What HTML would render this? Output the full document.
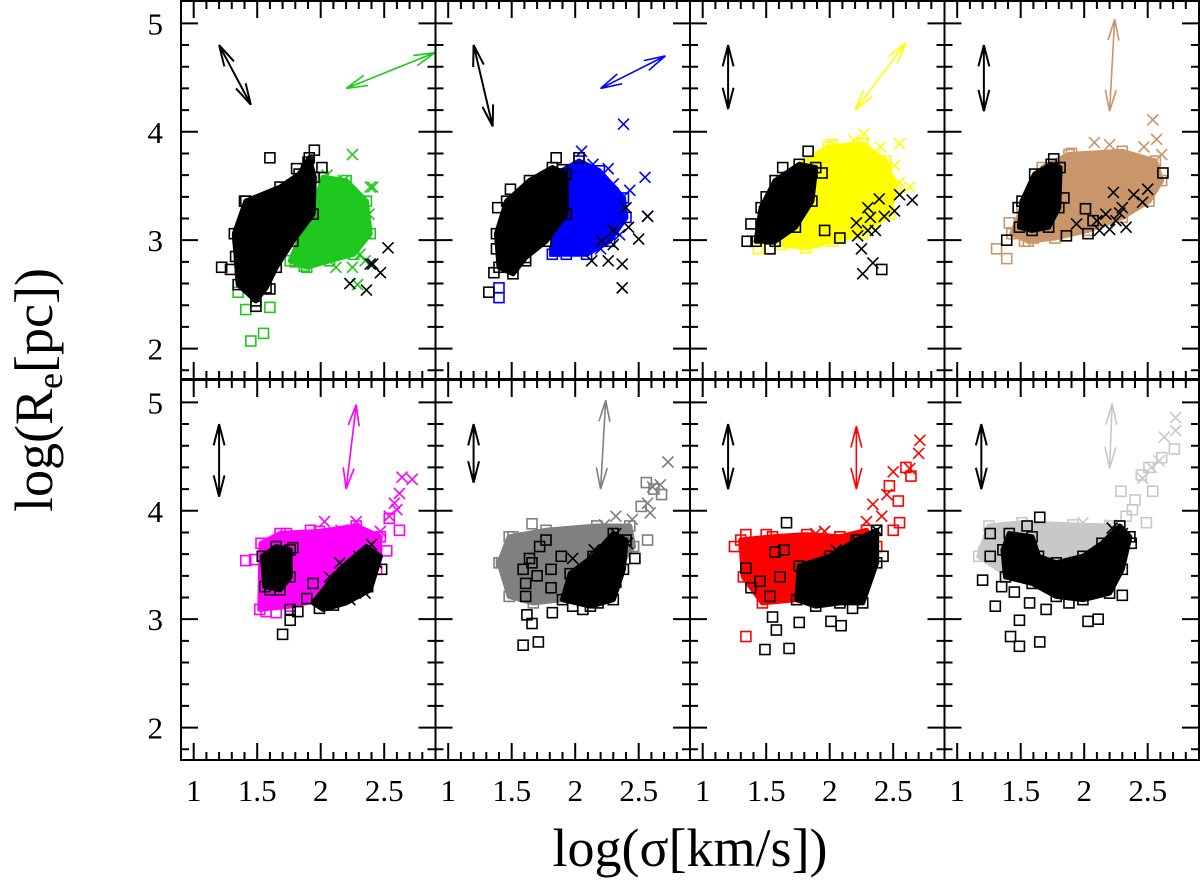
<!DOCTYPE html>
<html><head><meta charset="utf-8"><style>
html,body{margin:0;padding:0;background:#fff;}
svg{display:block;}
text{font-family:"Liberation Serif",serif;fill:#000;}
</style></head><body>
<svg id="chart" width="1200" height="882" viewBox="0 0 1200 882" xmlns="http://www.w3.org/2000/svg">
<g id="plots"></g>
<g id="labels"></g>
<text transform="translate(52,390) rotate(-90)" text-anchor="middle" font-size="54">log(R<tspan font-size="36" dy="10">e</tspan><tspan dy="-10">[pc])</tspan></text>
<text x="690" y="866" text-anchor="middle" font-size="54">log(σ[km/s])</text>
</svg>
<script>
// ---- data (x = log sigma, y = log Re) ----
const panelColors=["#1ec81e","#0000ff","#ffff00","#c8966a","#ff00ff","#808080","#ff0000","#c8c8c8"];
const xTicks=[1,1.5,2,2.5];
const xTickLabels=["1","1.5","2","2.5"];
const yTicks=[5,4,3,2];
const yTickLabels=["5","4","3","2"];

// Panel 1 green
const p1ColHull=[[1.76,2.81],[1.94,3.30],[2.02,3.58],[2.20,3.55],[2.36,3.36],[2.39,3.06],[2.26,2.87],[2.07,2.81],[1.89,2.75]];
const p1BlkHull=[[1.35,2.59],[1.32,3.06],[1.41,3.36],[1.68,3.49],[1.83,3.61],[1.91,3.76],[1.95,3.58],[1.94,3.24],[1.78,2.99],[1.65,2.75],[1.57,2.56],[1.49,2.44]];
const p1ColSq=[[1.45,2.07],[1.55,2.14],[1.41,2.36],[1.60,2.38],[1.35,2.52],[1.87,2.76],[1.80,2.80]];
const p1ColX=[[2.25,3.79],[2.39,3.49],[2.38,3.24],[2.36,3.06],[2.31,2.87],[2.12,2.75],[2.25,2.75],[2.18,3.55],[2.41,3.49],[2.32,3.33],[2.35,2.81],[2.29,2.59],[2.05,3.60],[2.30,3.15]];
const p1BlkSq=[[1.60,3.76],[1.95,3.83],[1.22,2.75],[1.29,2.73],[1.49,2.39],[1.35,3.02],[1.40,3.36],[2.01,3.67],[1.81,3.66],[1.33,2.85],[1.90,3.72],[1.60,2.55]];
const p1BlkX=[[2.53,2.93],[2.39,2.78],[2.47,2.70],[2.23,2.60],[2.36,2.54],[2.41,2.78]];
const p1Arrows=[[1.20,4.80,1.45,4.25],[2.20,4.40,2.90,4.73]];

// Panel 2 blue
const p2ColHull=[[1.82,2.87],[1.85,3.61],[2.03,3.73],[2.19,3.64],[2.38,3.39],[2.40,3.21],[2.27,2.99],[2.09,2.87],[1.93,2.87]];
const p2BlkHull=[[1.40,2.75],[1.38,3.06],[1.46,3.36],[1.64,3.55],[1.82,3.67],[1.93,3.61],[1.93,3.24],[1.77,2.99],[1.61,2.84],[1.51,2.69]];
const p2ColSq=[[1.40,2.47],[1.40,2.56],[1.84,2.90]];
const p2ColX=[[2.38,4.07],[2.05,3.82],[2.26,3.66],[2.55,3.58],[2.43,3.46],[2.30,3.52],[2.57,3.22],[2.14,3.70],[2.35,3.05],[2.20,2.92]];
const p2BlkSq=[[1.32,2.52],[1.36,2.70],[1.38,2.92],[1.39,3.30],[1.49,3.47],[1.85,3.76],[2.03,3.76],[1.61,2.81],[1.90,3.65]];
const p2BlkX=[[2.37,2.56],[2.37,2.78],[2.26,2.81],[2.13,2.81],[2.21,2.99],[2.30,2.96],[2.42,3.12],[2.50,3.01],[2.57,3.22],[2.40,3.30],[2.30,3.09]];
const p2Arrows=[[1.20,4.80,1.35,4.05],[2.20,4.40,2.71,4.70]];

// Panel 3 yellow
const p3ColHull=[[1.63,2.96],[1.76,3.70],[1.99,3.86],[2.26,3.89],[2.44,3.73],[2.52,3.49],[2.47,3.24],[2.26,3.06],[2.02,2.99],[1.81,2.93]];
const p3BlkHull=[[1.42,2.99],[1.46,3.30],[1.57,3.55],[1.76,3.70],[1.89,3.67],[1.86,3.36],[1.73,3.12],[1.57,2.99]];
const p3ColSq=[[2.02,3.88],[1.44,2.92],[1.86,2.98]];
const p3ColX=[[2.27,3.98],[2.55,3.89],[2.19,3.92],[2.40,3.86],[2.51,3.69],[2.63,3.49],[2.55,3.53],[2.13,3.82],[2.45,3.30]];
const p3BlkSq=[[1.35,2.99],[1.38,3.15],[1.53,2.92],[1.83,3.82],[1.96,3.09],[2.08,3.02],[2.41,2.73],[1.94,3.62],[1.63,3.67],[1.50,3.40]];
const p3BlkX=[[2.26,2.69],[2.34,2.79],[2.25,2.92],[2.22,3.04],[2.21,3.16],[2.30,3.09],[2.36,3.09],[2.30,3.30],[2.39,3.38],[2.43,3.22],[2.51,3.27],[2.55,3.42],[2.65,3.37],[2.32,3.21]];
const p3Arrows=[[1.20,4.80,1.20,4.21],[2.20,4.20,2.60,4.82]];

// Panel 4 tan
const p4ColHull=[[1.43,3.06],[1.51,3.30],[1.67,3.67],[1.88,3.79],[2.30,3.82],[2.56,3.73],[2.61,3.55],[2.51,3.36],[2.30,3.21],[2.03,3.09],[1.77,3.02],[1.56,2.99]];
const p4BlkHull=[[1.49,3.12],[1.51,3.36],[1.61,3.61],[1.74,3.70],[1.81,3.67],[1.80,3.30],[1.72,3.12],[1.59,3.09]];
const p4ColSq=[[1.31,2.92],[1.39,2.83],[1.41,3.16],[1.53,2.99],[1.90,3.80],[1.60,3.02]];
const p4ColX=[[2.54,4.11],[2.08,3.90],[2.20,3.88],[2.57,3.93],[2.61,3.79],[2.47,3.86],[2.34,3.76]];
const p4BlkSq=[[2.62,3.62],[1.39,3.00],[2.01,3.29],[2.07,3.18],[1.86,3.04],[2.03,3.06],[1.84,3.39],[1.76,3.75],[1.48,3.30]];
const p4BlkX=[[1.94,3.15],[2.12,3.09],[2.17,3.24],[2.23,3.44],[2.30,3.30],[2.39,3.42],[2.50,3.47],[2.46,3.35],[2.33,3.12],[2.25,3.18],[2.10,3.18],[2.20,3.10],[2.28,3.25]];
const p4Arrows=[[1.21,4.80,1.21,4.19],[2.20,4.19,2.24,5.04]];

// Panel 5 magenta
const p5ColHull=[[1.52,3.09],[1.53,3.70],[1.68,3.79],[1.99,3.81],[2.28,3.86],[2.47,3.76],[2.44,3.46],[2.26,3.27],[1.99,3.18],[1.76,3.12]];
const p5BlkHull=[[1.54,3.58],[1.65,3.67],[1.76,3.64],[1.76,3.39],[1.68,3.27],[1.56,3.30]];
const p5BlkHull2=[[1.94,3.15],[2.15,3.46],[2.36,3.67],[2.47,3.58],[2.39,3.27],[2.20,3.15],[2.02,3.09]];
const p5ColSq=[[1.41,3.54],[2.54,3.93],[2.62,3.82],[2.52,3.63],[1.57,3.07],[1.65,3.06],[1.73,3.79],[1.92,3.82],[1.48,3.55]];
const p5ColX=[[2.72,4.29],[2.64,4.31],[2.62,4.16],[2.58,4.07],[2.60,4.01],[2.54,3.95],[2.03,3.90],[2.28,3.90],[2.16,3.82],[2.47,3.81],[2.39,3.73]];
const p5BlkSq=[[1.70,2.86],[1.76,2.99],[1.76,3.09],[1.82,3.07],[1.89,3.19],[1.99,3.10],[2.10,3.13],[2.37,3.30],[2.48,3.46],[1.78,3.66],[1.60,3.27],[1.94,3.33]];
const p5BlkX=[[2.40,3.69],[2.44,3.52],[2.35,3.24],[2.23,3.18],[2.15,3.52],[2.30,3.58],[2.07,3.39]];
const p5Arrows=[[1.20,4.80,1.20,4.13],[2.20,4.20,2.28,4.98]];

// Panel 6 gray
const p6ColHull=[[1.40,3.52],[1.48,3.76],[1.77,3.82],[2.17,3.86],[2.43,3.86],[2.46,3.67],[2.30,3.42],[2.14,3.24],[1.90,3.18],[1.67,3.15],[1.48,3.21]];
const p6BlkHull=[[1.90,3.18],[1.96,3.42],[2.14,3.58],[2.30,3.79],[2.40,3.73],[2.38,3.46],[2.30,3.18],[2.12,3.12]];
const p6BlkHull2=[];
const p6ColSq=[[1.66,3.88],[2.56,4.26],[2.68,4.15],[2.52,4.04],[2.57,3.73],[1.42,3.52],[1.51,3.76],[2.62,4.20]];
const p6ColX=[[2.73,4.45],[2.67,4.24],[2.61,4.22],[2.57,4.07],[2.59,3.98],[2.32,3.95],[2.45,3.92],[2.23,3.87]];
const p6BlkSq=[[1.59,2.76],[1.71,2.79],[1.66,2.96],[1.62,3.04],[1.82,3.06],[1.61,3.21],[1.61,3.33],[1.59,3.46],[1.64,3.56],[1.72,3.67],[1.77,3.73],[1.81,3.46],[1.81,3.29],[1.98,3.12],[2.06,3.09],[2.18,3.15],[2.47,3.56],[2.32,3.34],[1.89,3.58],[1.70,3.40],[1.66,3.52]];
const p6BlkX=[[2.32,3.79],[2.41,3.70],[2.24,3.64],[1.98,3.56],[2.15,3.64]];
const p6Arrows=[[1.20,4.80,1.20,4.26],[2.20,4.20,2.24,5.02]];

// Panel 7 red
const p7ColHull=[[1.32,3.39],[1.30,3.73],[1.55,3.76],[1.82,3.78],[2.08,3.76],[2.29,3.82],[2.37,3.67],[2.26,3.46],[2.00,3.39],[1.74,3.18],[1.47,3.15]];
const p7BlkHull=[[1.74,3.18],[1.76,3.49],[2.00,3.58],[2.21,3.73],[2.37,3.82],[2.37,3.52],[2.26,3.15],[2.08,3.15],[1.89,3.12]];
const p7BlkHull2=[];
const p7ColSq=[[1.34,2.84],[2.55,3.89],[2.54,4.09],[2.64,4.32],[2.50,3.82],[1.25,3.67],[1.34,3.78],[1.50,3.78],[2.47,4.23],[2.60,4.40]];
const p7ColX=[[2.71,4.65],[2.70,4.53],[2.50,4.36],[2.63,4.39],[2.45,4.15],[2.34,4.06],[2.41,3.95],[2.29,3.90],[1.89,3.79],[1.96,3.81]];
const p7BlkSq=[[1.66,3.89],[1.49,2.72],[1.68,2.73],[1.58,2.90],[1.55,3.02],[1.76,2.97],[2.09,2.94],[2.01,2.98],[2.18,3.10],[1.34,3.47],[1.38,3.29],[1.57,3.62],[1.64,3.64],[1.53,3.21],[1.61,3.39],[2.42,3.58],[1.45,3.35]];
const p7BlkX=[[2.37,3.82],[2.05,3.64],[2.21,3.73]];
const p7Arrows=[[1.20,4.80,1.20,4.20],[2.21,4.20,2.21,4.78]];

// Panel 8 light gray
const p8ColHull=[[1.17,3.58],[1.25,3.86],[1.51,3.89],[1.91,3.87],[2.20,3.86],[2.30,3.76],[2.17,3.67],[1.91,3.58],[1.64,3.49],[1.38,3.42]];
const p8BlkHull=[[1.36,3.64],[1.41,3.79],[1.59,3.76],[1.64,3.58],[1.78,3.52],[1.99,3.58],[2.14,3.70],[2.28,3.86],[2.36,3.76],[2.30,3.46],[2.20,3.24],[1.99,3.18],[1.78,3.21],[1.59,3.33],[1.38,3.39]];
const p8ColSq=[[2.71,4.57],[2.61,4.49],[2.51,4.40],[2.45,4.33],[2.54,4.18],[2.29,4.18],[2.38,4.01],[2.49,3.89],[2.33,3.95],[1.21,3.62],[2.40,4.10]];
const p8ColX=[[2.72,4.86],[2.72,4.74],[2.63,4.68],[2.59,4.46],[1.99,3.89],[2.21,3.87],[2.46,4.30],[2.53,4.40]];
const p8BlkSq=[[1.65,3.94],[1.26,3.79],[1.26,3.58],[1.20,3.36],[1.30,3.12],[1.49,2.99],[1.42,2.84],[1.49,2.75],[1.65,2.79],[2.03,2.98],[2.11,3.00],[2.30,3.22],[1.57,3.15],[1.70,3.09],[1.88,3.15],[2.37,3.70],[1.55,3.86],[1.45,3.25],[1.35,3.30]];
const p8BlkX=[[2.22,3.84],[2.30,3.79]];
const p8Arrows=[[1.19,4.80,1.19,4.20],[2.22,4.99,2.20,4.39]];

const panels=[
 {hull:p1ColHull,bhull:p1BlkHull,bhull2:[],sq:p1ColSq,cx:p1ColX,bsq:p1BlkSq,bcx:p1BlkX,ar:p1Arrows},
 {hull:p2ColHull,bhull:p2BlkHull,bhull2:[],sq:p2ColSq,cx:p2ColX,bsq:p2BlkSq,bcx:p2BlkX,ar:p2Arrows},
 {hull:p3ColHull,bhull:p3BlkHull,bhull2:[],sq:p3ColSq,cx:p3ColX,bsq:p3BlkSq,bcx:p3BlkX,ar:p3Arrows},
 {hull:p4ColHull,bhull:p4BlkHull,bhull2:[],sq:p4ColSq,cx:p4ColX,bsq:p4BlkSq,bcx:p4BlkX,ar:p4Arrows},
 {hull:p5ColHull,bhull:p5BlkHull,bhull2:p5BlkHull2,sq:p5ColSq,cx:p5ColX,bsq:p5BlkSq,bcx:p5BlkX,ar:p5Arrows},
 {hull:p6ColHull,bhull:p6BlkHull,bhull2:p6BlkHull2,sq:p6ColSq,cx:p6ColX,bsq:p6BlkSq,bcx:p6BlkX,ar:p6Arrows},
 {hull:p7ColHull,bhull:p7BlkHull,bhull2:p7BlkHull2,sq:p7ColSq,cx:p7ColX,bsq:p7BlkSq,bcx:p7BlkX,ar:p7Arrows},
 {hull:p8ColHull,bhull:p8BlkHull,bhull2:[],sq:p8ColSq,cx:p8ColX,bsq:p8BlkSq,bcx:p8BlkX,ar:p8Arrows}
];

const NS="http://www.w3.org/2000/svg";
const XMIN=0.9,YMAX=5.2,XS=127,YS=108.4,PW=254.5;
const colLeft=[181,435.5,690,944.5];
const rowTop=[1,380],rowBot=[379,760];
function mk(tag,attrs,parent){const e=document.createElementNS(NS,tag);for(const k in attrs)e.setAttribute(k,attrs[k]);parent.appendChild(e);return e;}
const root=document.getElementById('plots');
const lab=document.getElementById('labels');

panels.forEach((p,i)=>{
  const c=i%4,r=Math.floor(i/4);
  const L=colLeft[c],T=rowTop[r],B=rowBot[r],R=L+PW;
  const X=v=>L+(v-XMIN)*XS;
  const Y=v=>T+(YMAX-v)*YS+0.7;
  const col=panelColors[i];
  const g=mk('g',{'clip-path':'url(#clip'+i+')'},root);
  
  
  const defs=mk('defs',{},root);
  const cp=mk('clipPath',{id:'clip'+i},defs);
  mk('rect',{x:L,y:T,width:PW,height:B-T},cp);
  const poly=(pts,color)=>{if(!pts.length)return;const e=mk('polygon',{points:pts.map(q=>X(q[0])+','+Y(q[1])).join(' '),fill:color,stroke:color,'stroke-width':5,'stroke-linejoin':'round'},g);
    
    };
  const sq=(pts,color,nm)=>pts.forEach(q=>{const e=mk('rect',{x:X(q[0])-5,y:Y(q[1])-5,width:10,height:10,fill:'none',stroke:color,'stroke-width':1.6},g);
    
    });
  const cx=(pts,color,nm)=>pts.forEach(q=>{const x=X(q[0]),y=Y(q[1]);const e=mk('path',{d:`M${x-5.5},${y-5.5}L${x+5.5},${y+5.5}M${x-5.5},${y+5.5}L${x+5.5},${y-5.5}`,stroke:color,'stroke-width':1.6,fill:'none'},g);
    
    });
  poly(p.hull,col);
  sq(p.hull,col,'colored-square');
  sq(p.sq,col,'colored-square');
  cx(p.cx,col,'colored-cross');
  poly(p.bhull,'#000');
  poly(p.bhull2,'#000');
  sq(p.bhull,'#000','black-square');
  sq(p.bsq,'#000','black-square');
  cx(p.bcx,'#000','black-cross');
  p.ar.forEach((a,k)=>{
    const x1=X(a[0]),y1=Y(a[1]),x2=X(a[2]),y2=Y(a[3]);
    const color=k===0?'#000':col,w=k===0?2:1.6;
    const ang=Math.atan2(y2-y1,x2-x1),h=22,s=0.25;
    let d=`M${x1},${y1}L${x2},${y2}`;
    [[x2,y2,ang+Math.PI],[x1,y1,ang]].forEach(e=>{
      d+=`M${e[0]+h*Math.cos(e[2]+s)},${e[1]+h*Math.sin(e[2]+s)}L${e[0]},${e[1]}L${e[0]+h*Math.cos(e[2]-s)},${e[1]+h*Math.sin(e[2]-s)}`;
    });
    const e=mk('path',{d:d,stroke:color,'stroke-width':w,fill:'none'},g);
    
    
  });
  let d='';
  for(let t=10;t<=29;t++){const v=t/10,x=X(v);if(x<L+1||x>R-1)continue;const len=(t%5===0)?17:8;d+=`M${x},${B}v${-len}M${x},${T}v${len}`;}
  for(let t=9;t<=26;t++){const v=t/5,y=Y(v);if(y<T+1||y>B-1)continue;const len=(t%5===0)?17:8;d+=`M${L},${y}h${len}M${R},${y}h${-len}`;}
  const tk=mk('path',{d:d,stroke:'#000','stroke-width':2,fill:'none'},root);
  
  
  const fr=mk('rect',{x:L,y:T,width:PW,height:B-T,fill:'none',stroke:'#000','stroke-width':2},root);
  
  
  if(r===1){xTicks.forEach((v,j)=>{const t=mk('text',{x:X(v),y:801,'text-anchor':'middle','font-size':31},lab);t.textContent=xTickLabels[j];
    
    });}
  if(c===0){yTicks.forEach((v,j)=>{const t=mk('text',{x:163,y:Y(v)+11,'text-anchor':'end','font-size':31},lab);t.textContent=yTickLabels[j];
    
    });}
});
</script>
</body></html>
